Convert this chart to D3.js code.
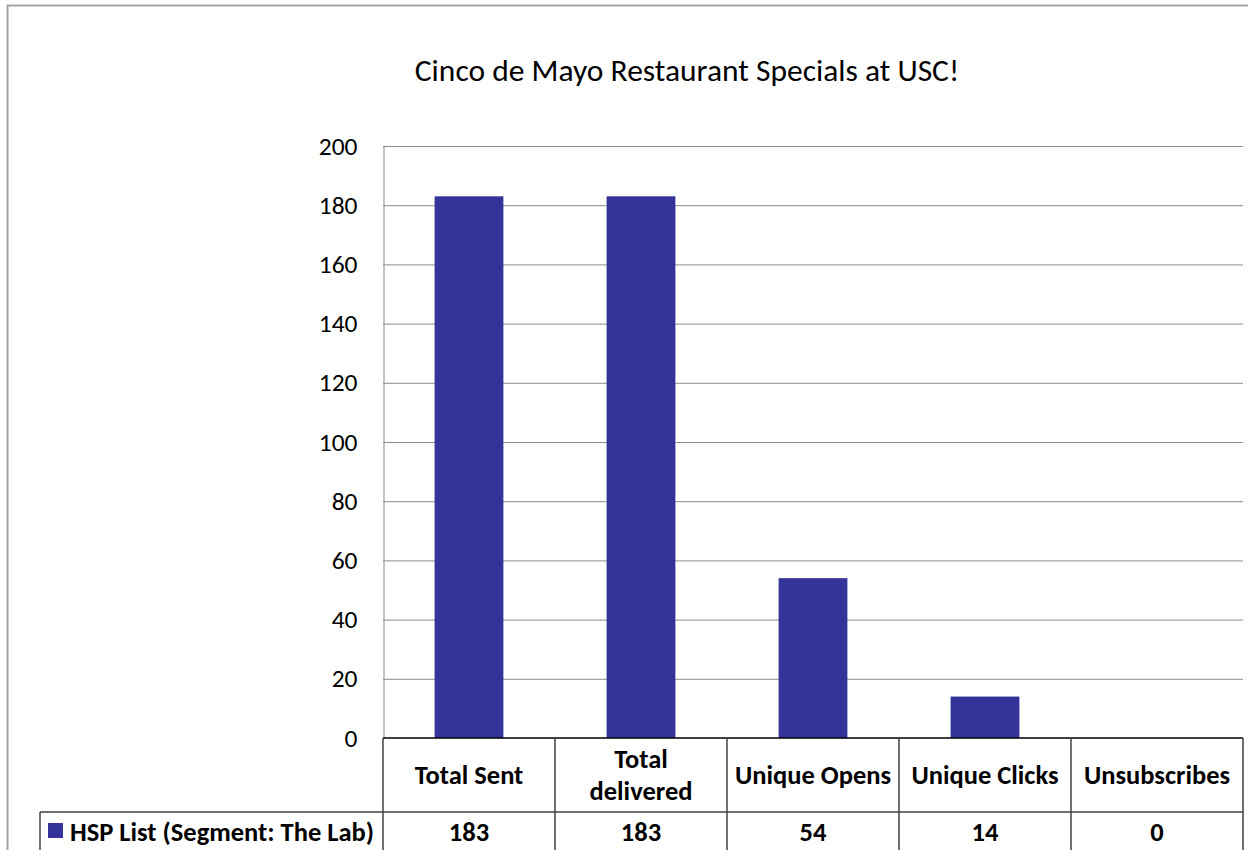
<!DOCTYPE html>
<html>
<head>
<meta charset="utf-8">
<script src="https://cdn.jsdelivr.net/npm/d3@7"></script>
<style>
  body { margin: 0; background: #fff; }
  svg { display: block; font-family: Carlito, Calibri, Lato, sans-serif; }
</style>
</head>
<body>
<svg width="1248" height="850"></svg>
<script>
// chart data
const categories = ["Total Sent", "Total delivered", "Unique Opens", "Unique Clicks", "Unsubscribes"];
const categoryLines = [["Total Sent"], ["Total", "delivered"], ["Unique Opens"], ["Unique Clicks"], ["Unsubscribes"]];
const seriesName = "HSP List (Segment: The Lab)";
const seriesValues = [183, 183, 54, 14, 0];
const yTicks = [0, 20, 40, 60, 80, 100, 120, 140, 160, 180, 200];
const chartTitle = "Cinco de Mayo Restaurant Specials at USC!";

const barColor = "#333399";
const svg = d3.select("svg");

// outer chart border
svg.append("rect")
  .attr("x", 7.5).attr("y", 5.5)
  .attr("width", 1260).attr("height", 870)
  .attr("fill", "#fff")
  .attr("stroke", "#a6a6a6")
  .attr("stroke-width", 2);

svg.append("text")
  .attr("x", 687).attr("y", 81)
  .attr("text-anchor", "middle")
  .attr("font-size", 31.5)
  .attr("fill", "#000")
  .text(chartTitle);

let plotLeft = 383, plotRight = 1243, plotTop = 146, plotBottom = 738;

let x = d3.scaleBand()
  .domain(categories)
  .range([plotLeft, plotRight])
  .paddingInner(0.6)
  .paddingOuter(0.3);

let y = d3.scaleLinear().domain([0, 200]).range([plotBottom, plotTop]);

// gridlines
svg.append("g")
  .selectAll("line")
  .data(yTicks.filter(d => d > 0))
  .join("line")
  .attr("x1", plotLeft).attr("x2", plotRight)
  .attr("y1", d => y(d) + 0.5).attr("y2", d => y(d) + 0.5)
  .attr("stroke", "#8c8c8c")
  .attr("stroke-width", 1);

// y axis
let yAxis = svg.append("g")
  .attr("transform", "translate(" + (plotLeft + 0.5) + ",0)")
  .call(d3.axisLeft(y).tickValues(yTicks).tickSize(0).tickPadding(26));
yAxis.select(".domain").attr("stroke", "#8c8c8c");
yAxis.selectAll("text")
  .attr("font-size", 25.5)
  .attr("font-family", "Carlito, Calibri, Lato, sans-serif")
  .attr("fill", "#000");

// bars
svg.append("g")
  .selectAll("rect")
  .data(seriesValues)
  .join("rect")
  .attr("x", (d, i) => x(categories[i]))
  .attr("y", d => y(d))
  .attr("width", x.bandwidth())
  .attr("height", d => plotBottom - y(d))
  .attr("fill", barColor);

// data table
let step = x.step();
let rowH = 74;
let table = svg.append("g").attr("stroke", "#404040").attr("stroke-width", 1.5).attr("fill", "none");
table.append("line").attr("x1", plotLeft).attr("x2", plotRight).attr("y1", plotBottom).attr("y2", plotBottom).attr("stroke", "#000");
table.append("line").attr("x1", 40).attr("x2", plotRight).attr("y1", plotBottom + rowH).attr("y2", plotBottom + rowH);
table.append("line").attr("x1", 40).attr("x2", 40).attr("y1", plotBottom + rowH).attr("y2", 900);
d3.range(categories.length + 1).forEach(i => {
  table.append("line")
    .attr("x1", plotLeft + i * step).attr("x2", plotLeft + i * step)
    .attr("y1", plotBottom).attr("y2", 900);
});

let headers = svg.append("g")
  .attr("font-size", 26.5).attr("font-weight", "bold")
  .attr("text-anchor", "middle").attr("fill", "#000");
categories.forEach((c, i) => {
  let lines = categoryLines[i];
  let cx = x(c) + x.bandwidth() / 2;
  lines.forEach((ln, j) => {
    headers.append("text")
      .attr("x", cx)
      .attr("y", plotBottom + rowH / 2 + 9 + (j - (lines.length - 1) / 2) * 32)
      .text(ln);
  });
  headers.append("text")
    .attr("x", cx)
    .attr("y", plotBottom + rowH + 29)
    .text(seriesValues[i]);
});

// legend key in table
svg.append("rect")
  .attr("x", 48).attr("y", 823)
  .attr("width", 15).attr("height", 15)
  .attr("fill", barColor);
svg.append("text")
  .attr("x", 70).attr("y", plotBottom + rowH + 29)
  .attr("font-size", 26.5).attr("font-weight", "bold")
  .attr("fill", "#000")
  .text(seriesName);
</script>
</body>
</html>
